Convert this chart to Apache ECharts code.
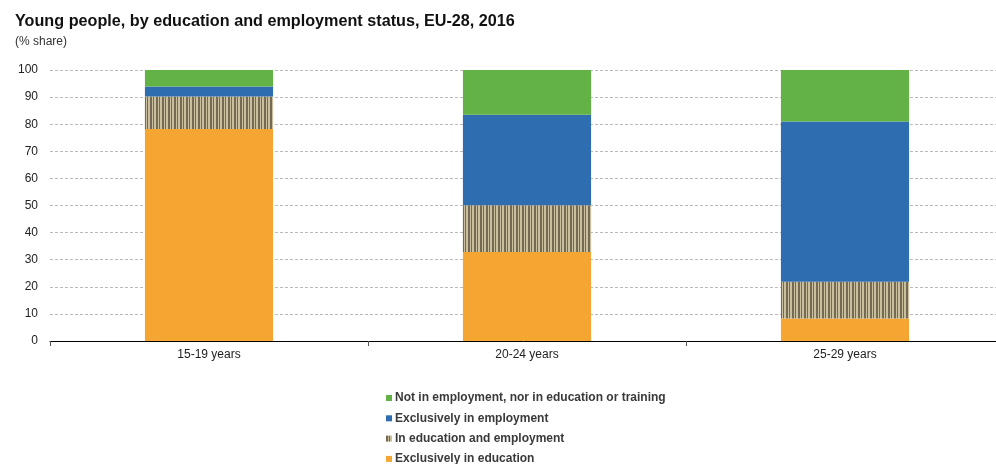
<!DOCTYPE html>
<html><head><meta charset="utf-8">
<script src="https://cdn.jsdelivr.net/npm/echarts@6/dist/echarts.min.js"></script>
<style>html,body{margin:0;padding:0;background:#fff}#c{width:996px;height:464px}</style>
</head><body><div id="c"></div>
<script>
const categories = ['15-19 years', '20-24 years', '25-29 years'];
const exclusivelyInEducation = [78.2, 32.8, 8.3];
const inEducationAndEmployment = [12.0, 17.3, 13.6];
const exclusivelyInEmployment = [3.7, 33.4, 59.1];
const notInEmploymentEducationTraining = [6.1, 16.5, 19.0];
const yTicks = [0, 10, 20, 30, 40, 50, 60, 70, 80, 90, 100];

const pc = document.createElement('canvas');
pc.width = 6; pc.height = 4;
const ctx = pc.getContext('2d');
ctx.fillStyle = '#756b55'; ctx.fillRect(0, 0, 6, 4);
ctx.fillStyle = '#c9bf9f'; ctx.fillRect(2, 0, 1, 4); ctx.fillRect(4, 0, 2, 4);

const chart = echarts.init(document.getElementById('c'));
const F = 'Liberation Sans, Arial, sans-serif';
chart.setOption({
  animation: false,
  textStyle: { fontFamily: F },
  title: {
    text: 'Young people, by education and employment status, EU-28, 2016',
    subtext: '(% share)',
    left: 10, top: 9, itemGap: 6,
    textStyle: { fontFamily: F, fontSize: 16.2, fontWeight: 'bold', color: '#111' },
    subtextStyle: { fontFamily: F, fontSize: 12, color: '#333' }
  },
  grid: { left: 50, width: 954, top: 70, bottom: 123, containLabel: false, outerBoundsMode: 'none' },
  legend: {
    orient: 'vertical', left: 381, top: 387, height: 120, itemGap: 8.3,
    itemWidth: 6, itemHeight: 6, icon: 'rect',
    textStyle: { fontFamily: F, fontSize: 12, fontWeight: 'bold', color: '#3a3a3a', padding: [0, 0, 0, -2] },
    data: ['Not in employment, nor in education or training', 'Exclusively in employment',
           'In education and employment', 'Exclusively in education']
  },
  xAxis: {
    type: 'category', data: categories,
    axisLine: { lineStyle: { color: '#000', width: 1 } },
    axisTick: { show: true, length: 5, lineStyle: { color: '#555' } },
    axisLabel: { color: '#222', fontSize: 12, margin: 8 }
  },
  yAxis: {
    type: 'value', min: 0, max: 100, interval: 10,
    axisLine: { show: false }, axisTick: { show: false },
    axisLabel: { color: '#222', fontSize: 12, margin: 12,
      formatter: v => yTicks.includes(v) ? String(v) : '' },
    splitLine: { lineStyle: { color: '#bbb', type: [3, 2] } }
  },
  series: [
    { name: 'Exclusively in education', type: 'bar', stack: 's', barWidth: '40.3%',
      data: exclusivelyInEducation, itemStyle: { color: '#f5a531' } },
    { name: 'In education and employment', type: 'bar', stack: 's',
      data: inEducationAndEmployment, itemStyle: { color: { image: pc, repeat: 'repeat' } } },
    { name: 'Exclusively in employment', type: 'bar', stack: 's',
      data: exclusivelyInEmployment, itemStyle: { color: '#2d6db0' } },
    { name: 'Not in employment, nor in education or training', type: 'bar', stack: 's',
      data: notInEmploymentEducationTraining, itemStyle: { color: '#62b246' } }
  ]
});
</script></body></html>
